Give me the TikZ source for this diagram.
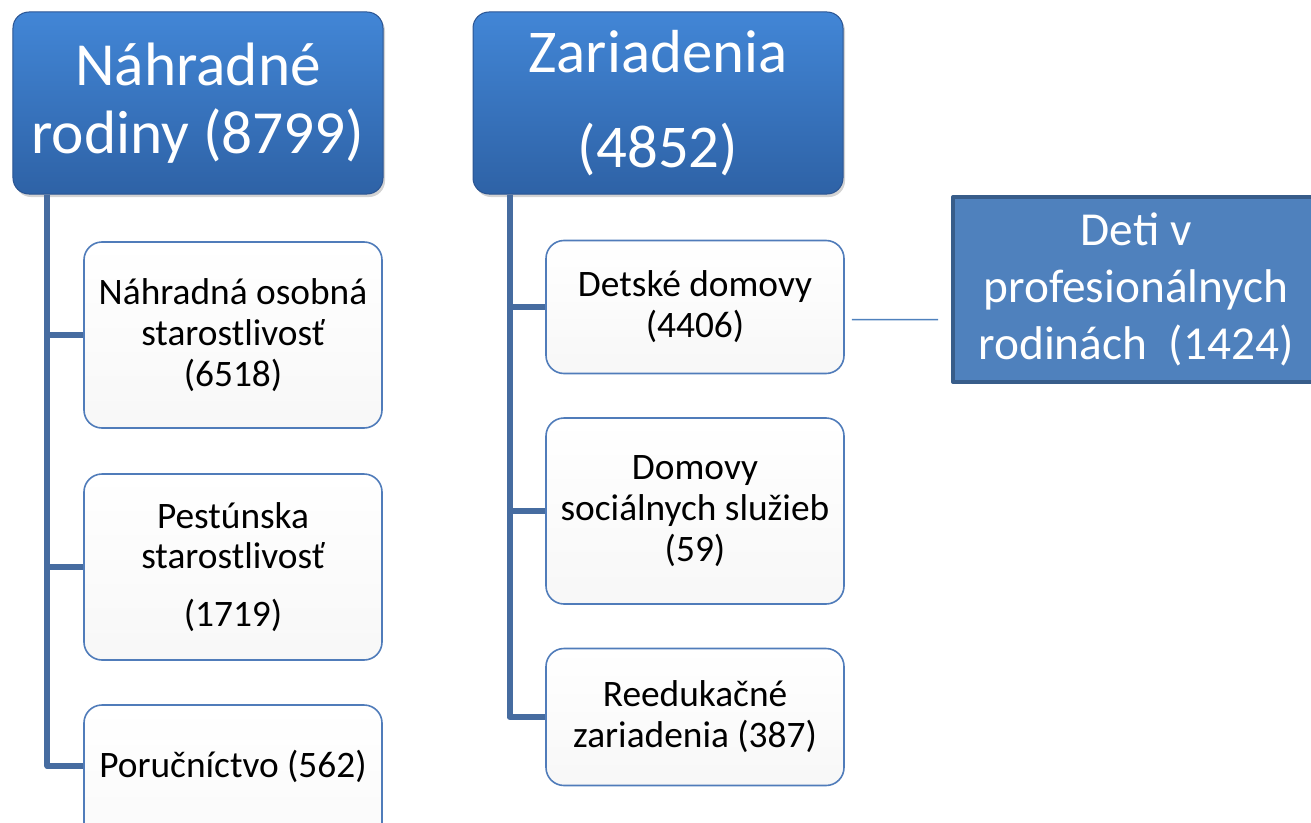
\documentclass[tikz,border=0pt]{standalone}
\usepackage{fontspec}
\setmainfont{Carlito}
\usetikzlibrary{shadows}
\definecolor{topblue}{RGB}{66,134,214}
\definecolor{botblue}{RGB}{46,98,166}
\definecolor{edgeblue}{RGB}{42,84,146}
\definecolor{linkblue}{RGB}{70,108,160}
\definecolor{childedge}{RGB}{80,124,186}
\definecolor{flatblue}{RGB}{79,129,189}
\definecolor{flatedge}{RGB}{56,93,138}
\begin{document}
\begin{tikzpicture}[x=1bp,y=-1bp, line join=round,
	head/.style={rounded corners=16bp, draw=edgeblue, line width=1bp, top color=topblue, bottom color=botblue,
		text=white, align=center, minimum width=370bp, minimum height=182bp, inner sep=0pt,
		drop shadow={opacity=0.35, shadow xshift=2bp, shadow yshift=-3bp}},
	item/.style={rounded corners=18bp, draw=childedge, line width=1.6bp, top color=white, bottom color=black!3,
		align=center, minimum width=298bp, minimum height=186bp, inner sep=0pt, font=\fontsize{37.5}{41}\selectfont},
	link/.style={draw=linkblue, line width=6bp},
	thinlink/.style={draw=flatblue, line width=1.5bp}]
	\useasboundingbox (0,0) rectangle (1311,822);
	\begin{scope}
	\clip (0,0) rectangle (1311,822);
	% first column
	\node[head, font=\fontsize{61.5}{68}\selectfont] (rod) at (198,103) {Náhradné\\rodiny (8799)};
	\node[item] (nos) at (233,335) {Náhradná osobná\\starostlivosť\\(6518)};
	\node[item] (pes) at (233,567) {Pestúnska\\starostlivosť\\[17bp](1719)};
	\node[item, minimum height=200bp] (por) at (233,805) {};
	\node[font=\fontsize{37.5}{41}\selectfont] (port) at (233,766) {Poručníctvo (562)};
	\draw[link] ([xshift=35bp]rod.south west) |- (nos.west);
	\draw[link] ([xshift=35bp]rod.south west) |- (pes.west);
	\draw[link] ([xshift=35bp]rod.south west) |- (por.west |- port.center);
	% second column
	\node[head, font=\fontsize{61}{95}\selectfont] (zar) at (658,103) {Zariadenia\\(4852)};
	\node[item, minimum height=133bp] (dd) at (695,307) {Detské domovy\\(4406)};
	\node[item] (dss) at (695,511) {Domovy\\sociálnych služieb\\(59)};
	\node[item, minimum height=137bp] (ree) at (695,717) {Reedukačné\\zariadenia (387)};
	\draw[link] ([xshift=37bp]zar.south west) |- (dd.west);
	\draw[link] ([xshift=37bp]zar.south west) |- (dss.west);
	\draw[link] ([xshift=37bp]zar.south west) |- (ree.west);
	% professional families
	\node[draw=flatedge, line width=4bp, fill=flatblue, text=white, align=center, minimum width=366bp,
		minimum height=185bp, inner sep=0pt, font=\fontsize{47.5}{57}\selectfont] (deti) at (1136,289.5)
		{Deti v\\profesionálnych\\rodinách~ (1424)};
	\draw[thinlink] ([shift={(7bp,-12.5bp)}]dd.east) -- ([shift={(-13bp,-30bp)}]deti.west);
	\end{scope}
\end{tikzpicture}
\end{document}
